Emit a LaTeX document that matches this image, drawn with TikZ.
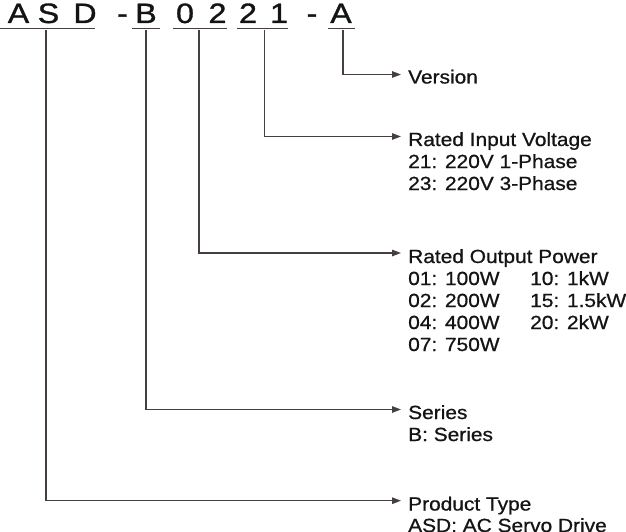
\documentclass[tikz,border=0pt]{standalone}
\usepackage{fontspec}
\setmainfont[FakeStretch=1.1,FakeBold=0.8]{Liberation Sans}
\newfontfamily\codefont[FakeStretch=1.15,FakeBold=1.2]{Liberation Sans}
\usetikzlibrary{arrows.meta}
\definecolor{txt}{HTML}{141414}
\definecolor{ln}{HTML}{463F3F}
\begin{document}
\begin{tikzpicture}[x=1pt,y=-1pt,
  lbl/.style={anchor=base west, inner sep=0pt, font=\fontsize{19}{22}\selectfont, text=txt},
  code/.style={anchor=base, inner sep=0pt, font=\codefont\fontsize{28}{30}\selectfont, text=txt},
  uline/.style={line width=1.3pt, draw=ln},
  conn/.style={line width=1.3pt, draw=ln, -{Triangle[length=9pt,width=6.5pt]}}]
\useasboundingbox (0,0) rectangle (626,532);
% code letters
\node[code] (l1) at (18.5,23) {A};
\node[code] (l2) at (48.5,23) {S};
\node[code] (l3) at (85,23) {D};
\node[code] (l4) at (122.5,23) {-};
\node[code] (l5) at (146,23) {B};
\node[code] (l6) at (185,23) {0};
\node[code] (l7) at (217.5,23) {2};
\node[code] (l8) at (248,23) {2};
\node[code] (l9) at (279,23) {1};
\node[code] (l10) at (312,23) {-};
\node[code] (l11) at (341,23) {A};
% underlines
\draw[uline] (0,28.3) -- (95,28.3);
\draw[uline] (132,28.3) -- (160,28.3);
\draw[uline] (173,28.3) -- (227,28.3);
\draw[uline] (237,28.3) -- (288,28.3);
\draw[uline] (328,28.3) -- (355,28.3);
% connector starts
\coordinate (cASD) at (46,30.5);
\coordinate (cB) at (146,30.5);
\coordinate (cPow) at (199,30.5);
\coordinate (cVol) at (264.5,30.5);
\coordinate (cVer) at (343,30.5);
% arrow tips
\coordinate (tVer) at (401,74.5);
\coordinate (tVol) at (401,136.5);
\coordinate (tPow) at (401,253);
\coordinate (tB) at (401,409.5);
\coordinate (tASD) at (401,500.7);
% labels
\node[lbl] (ver) at (408,83.5) {Version};
\node[lbl] (vol) at (408,146) {Rated Input Voltage};
\node[lbl] (vol1) at (408,168) {21: 220V 1-Phase};
\node[lbl] (vol2) at (408,190) {23: 220V 3-Phase};
\node[lbl] (pow) at (408,263) {Rated Output Power};
\node[lbl] (p01) at (408,285) {01: 100W};
\node[lbl] (p02) at (408,307) {02: 200W};
\node[lbl] (p04) at (408,329) {04: 400W};
\node[lbl] (p07) at (408,351) {07: 750W};
\node[lbl] (p10) at (530,285) {10: 1kW};
\node[lbl] (p15) at (530,307) {15: 1.5kW};
\node[lbl] (p20) at (530,329) {20: 2kW};
\node[lbl] (ser) at (408,419) {Series};
\node[lbl] (ser1) at (408,441) {B: Series};
\node[lbl] (prod) at (408,510.5) {Product Type};
\node[lbl] (prod1) at (408,532) {ASD: AC Servo Drive};
% connectors
\draw[conn] (cVer) |- (tVer);
\draw[conn] (cVol) |- (tVol);
\draw[conn] (cPow) |- (tPow);
\draw[conn] (cB) |- (tB);
\draw[conn] (cASD) |- (tASD);
\end{tikzpicture}
\end{document}
